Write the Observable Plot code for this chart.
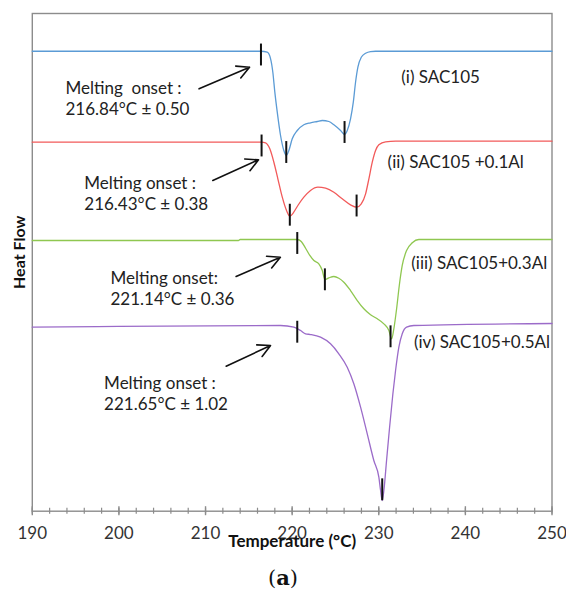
<!DOCTYPE html>
<html>
<head>
<meta charset="utf-8">
<script src="https://cdn.jsdelivr.net/npm/d3@7"></script>
<script src="https://cdn.jsdelivr.net/npm/@observablehq/plot@0.6"></script>
<style>
  html, body { margin: 0; padding: 0; background: #fff; }
  #chart svg { display: block; }
  #caption { width: 566px; text-align: center; font-family: "DejaVu Serif", serif; font-size: 21px; line-height: 24px; margin-top: 6px; color: #111; }
</style>
</head>
<body>
<div id="chart"></div>
<div id="caption">(<b>a</b>)</div>
<script>
// ---- Data: temperature (°C) and heat flow (arbitrary units, offset curves) ----
const seriesNames = ["(i) SAC105", "(ii) SAC105 +0.1Al", "(iii) SAC105+0.3Al", "(iv) SAC105+0.5Al"];
const seriesColors = ["#5b9bd5", "#f25a5a", "#8fc750", "#9b6bc9"];

const tempI = [190, 216.4, 217.12, 217.51, 217.77, 218.00, 218.28, 218.66, 219.04, 219.32, 219.62, 220.01, 220.59, 221.35, 222.12, 222.90, 223.48, 224.24, 224.82, 225.59, 226.05, 226.36, 226.74, 227.06, 227.32, 227.59, 227.98, 228.48, 229.05, 229.63, 250];
const hfI   = [92.42, 92.42, 92.22, 90.90, 88.20, 84.19, 80.17, 75.49, 72.47, 71.47, 72.47, 74.82, 76.49, 77.64, 78.04, 78.30, 78.50, 78.30, 77.64, 76.49, 75.69, 76.49, 78.84, 82.18, 86.19, 89.21, 91.22, 92.02, 92.36, 92.42, 92.42];

const tempII = [190, 216.47, 216.93, 217.42, 217.89, 218.35, 218.86, 219.35, 219.73, 220.13, 220.66, 221.35, 222.12, 222.97, 223.86, 224.82, 225.78, 226.74, 227.44, 227.98, 228.48, 228.86, 229.25, 229.63, 230.01, 230.79, 231.94, 250];
const hfII   = [74.14, 74.14, 74.02, 72.81, 70.12, 66.79, 63.09, 60.42, 59.27, 59.95, 61.42, 63.09, 64.44, 65.10, 64.90, 64.09, 62.77, 61.56, 61.08, 61.76, 63.77, 66.79, 70.12, 72.47, 73.62, 74.22, 74.34, 74.34];

const tempIII = [190, 213.8, 214.0, 220.59, 221.05, 221.55, 222.04, 222.51, 223.08, 223.48, 223.78, 224.24, 224.82, 225.39, 225.97, 226.74, 227.52, 228.28, 229.05, 229.83, 230.59, 231.17, 231.48, 231.74, 232.06, 232.37, 232.71, 233.21, 233.87, 234.63, 250];
const hfIII   = [54.39, 54.39, 54.59, 54.59, 54.19, 52.84, 51.38, 50.37, 49.71, 48.36, 46.55, 46.89, 47.16, 46.81, 46.01, 44.34, 42.33, 40.67, 39.46, 38.66, 37.65, 36.31, 34.64, 36.65, 40.67, 45.35, 49.37, 52.38, 53.93, 54.59, 54.59];

const tempIV = [190, 197.5, 218.66, 220.20, 220.97, 221.55, 222.12, 223.28, 224.43, 225.39, 226.36, 227.12, 227.90, 228.67, 229.43, 230.01, 230.21, 230.40, 230.59, 230.90, 231.25, 231.63, 231.94, 232.32, 232.71, 233.21, 234.05, 250];
const hfIV   = [36.97, 37.10, 37.31, 36.97, 36.31, 35.64, 35.50, 34.96, 33.63, 31.62, 28.93, 25.60, 20.90, 15.55, 10.19, 6.83, 4.16, 2.15, 4.16, 10.19, 16.88, 23.59, 28.27, 32.95, 35.64, 36.97, 37.31, 37.71];

// characteristic-temperature markers (vertical black ticks)
const markerT  = [216.4, 219.32, 226.05, 216.47, 219.73, 227.44, 220.59, 223.78, 231.36, 220.59, 230.40];
const markerHF = [91.66, 72.07, 76.09, 73.38, 59.47, 61.32, 53.79, 46.49, 35.04, 35.96, 4.30];

// onset annotations
const onsetText = [
  "Melting\u00a0 onset :\n216.84°C ± 0.50",
  "Melting onset :\n216.43°C ± 0.38",
  "Melting onset:\n221.14°C ± 0.36",
  "Melting onset :\n221.65°C ± 1.02"
];
const onsetT  = [193.83, 196.0, 199.03, 198.29];
const onsetHF = [83.08, 63.99, 44.85, 23.75];

// arrows (tail -> head)
const arrowT1  = [209.25, 210.84, 213.53, 212.38];
const arrowHF1 = [84.87, 66.44, 47.16, 29.13];
const arrowT2  = [215.08, 216.12, 218.64, 217.51];
const arrowHF2 = [89.21, 70.60, 51.03, 33.29];

// series label anchors
const nameT  = [232.60, 231.02, 233.76, 234.06];
const nameHF = [87.08, 70.12, 49.71, 33.96];

const majorTicks = [190, 200, 210, 220, 230, 240, 250];
const minorTicks = d3.range(190, 251, 2);

// ---- Build tables ----
const curves = [[tempI, hfI], [tempII, hfII], [tempIII, hfIII], [tempIV, hfIV]]
  .flatMap(([ts, hs], k) => ts.map((t, i) => ({series: seriesNames[k], T: t, HF: hs[i]})));
const markers = markerT.map((t, i) => ({T: t, HF: markerHF[i]}));
const onsets = onsetText.map((s, i) => ({text: s, T: onsetT[i], HF: onsetHF[i]}));
const arrows = arrowT1.map((t, i) => ({x1: t, y1: arrowHF1[i], x2: arrowT2[i], y2: arrowHF2[i]}));
const names = seriesNames.map((s, i) => ({text: s, T: nameT[i], HF: nameHF[i]}));

const tickHalf = 2.2;
const frameColor = "#8c8c8c";

const chart = Plot.plot({
  width: 566,
  height: 560,
  marginLeft: 31.8,
  marginRight: 14.5,
  marginTop: 13,
  marginBottom: 49.3,
  style: {fontFamily: "Lato, sans-serif", fontSize: "17px", background: "#fff", overflow: "visible"},
  x: {domain: [190, 250]},
  y: {domain: [0, 100], axis: null},
  color: {domain: seriesNames, range: seriesColors},
  marks: [
    Plot.frame({stroke: frameColor, strokeWidth: 1.4}),
    Plot.axisX({ticks: minorTicks, tickSize: 6, dy: -3, tickFormat: () => "", stroke: frameColor, strokeWidth: 1.2}),
    Plot.axisX({ticks: majorTicks, tickSize: 9, dy: -4.5, tickFormat: () => "", stroke: frameColor, strokeWidth: 1.4}),
    Plot.axisX({ticks: majorTicks, tickSize: 0, tickPadding: 16, label: null, fill: "#333", fontSize: 17}),
    Plot.line(curves, {x: "T", y: "HF", z: "series", stroke: "series", strokeWidth: 1.3, curve: "monotone-x"}),
    Plot.ruleX(markers, {x: "T", y1: d => d.HF - tickHalf, y2: d => d.HF + tickHalf, stroke: "#111", strokeWidth: 2}),
    Plot.arrow(arrows, {x1: "x1", y1: "y1", x2: "x2", y2: "y2", stroke: "#111", strokeWidth: 1.6, headLength: 13, headAngle: 55}),
    Plot.text(onsets, {x: "T", y: "HF", text: "text", textAnchor: "start", lineAnchor: "middle", lineHeight: 1.25, fontSize: 17, fill: "#222"}),
    Plot.text(names, {x: "T", y: "HF", text: "text", textAnchor: "start", fontSize: 17, fill: "#222"}),
    Plot.text(["Temperature (°C)"], {frameAnchor: "bottom", dy: 35.3, fontWeight: "bold", fontSize: 17, fill: "#111"}),
    Plot.text(["Heat Flow"], {frameAnchor: "left", rotate: -90, textAnchor: "middle", dx: -12, dy: -10, fontWeight: "bold", fontSize: 16, fill: "#111"})
  ]
});
document.getElementById("chart").appendChild(chart);
</script>
</body>
</html>
